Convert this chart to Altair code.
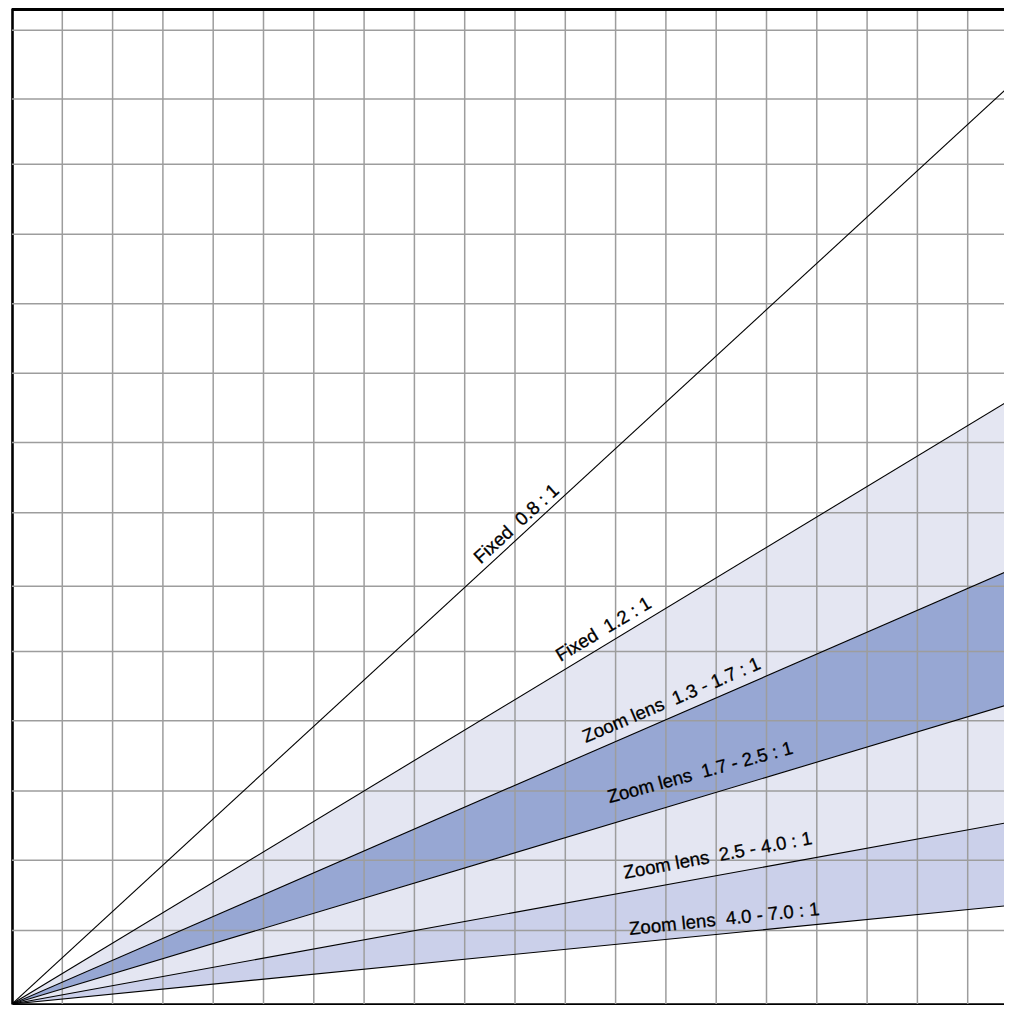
import altair as alt
import pandas as pd

# ---------------- data (grid units: x = throw distance, y = picture size) -------------
line_names = ["0.8", "1.2", "1.7", "2.5", "4.0", "7.0"]
line_end_y = [13.26, 8.72, 6.265, 4.33, 2.625, 1.424]   # height of each ratio line at x_end
x_end = 19.88

band_names = ["Zoom 1.3-1.7", "Zoom 1.7-2.5", "Zoom 2.5-4.0", "Zoom 4.0-7.0"]
band_upper = [8.72, 6.265, 4.33, 2.625]
band_lower = [6.265, 4.33, 2.625, 1.424]
band_colors = ["#E4E6F2", "#97A7D3", "#E4E6F2", "#CBD0EA"]

label_texts = [
    "Fixed \u00a00.8 : 1",
    "Fixed \u00a01.2 : 1",
    "Zoom lens \u00a01.3 - 1.7 : 1",
    "Zoom lens \u00a01.7 - 2.5 : 1",
    "Zoom lens \u00a02.5 - 4.0 : 1",
    "Zoom lens \u00a04.0 - 7.0 : 1",
]
label_x = [10.03, 11.76, 13.11, 13.68, 14.03, 14.16]
label_y = [6.92, 5.40, 4.38, 3.336, 2.14, 1.225]
label_angle = [317.6, 329.0, 337.0, 344.8, 349.5, 354.0]

x_grid = list(range(1, 20))
y_grid = [1.06, 2.07, 3.07, 4.08, 5.08, 6.02, 7.08, 8.09, 9.09, 10.09,
          11.09, 12.10, 13.04, 14.03]

# ---------------- layout ---------------------------------------------------------------
W, H = 992, 996
x_dom = [0, W / 50.3]
y_dom = [0, H / 69.4]

# ---------------- tables ---------------------------------------------------------------
band_rows = []
for n, hi, lo in zip(band_names, band_upper, band_lower):
    band_rows.append({"band": n, "x": 0.0, "hi": 0.0, "lo": 0.0})
    band_rows.append({"band": n, "x": x_end, "hi": hi, "lo": lo})
bands = pd.DataFrame(band_rows)

line_rows = []
for n, e in zip(line_names, line_end_y):
    line_rows.append({"line": n, "x": 0.0, "y": 0.0})
    line_rows.append({"line": n, "x": x_end, "y": e})
lines = pd.DataFrame(line_rows)

labels = pd.DataFrame({"text": label_texts, "x": label_x, "y": label_y,
                       "angle": label_angle})
vgrid = pd.DataFrame({"x": x_grid})
hgrid = pd.DataFrame({"y": y_grid})

xs = alt.Scale(domain=x_dom, nice=False, zero=False)
ys = alt.Scale(domain=y_dom, nice=False, zero=False)
x_axis = alt.Axis(labels=False, ticks=False, grid=False, title=None,
                  domainColor="#000000", domainWidth=2.6)
y_axis = alt.Axis(labels=False, ticks=False, grid=False, title=None,
                  domainColor="#000000", domainWidth=2.6)

X = lambda f: alt.X(f, scale=xs, axis=x_axis)
Y = lambda f, **k: alt.Y(f, scale=ys, axis=y_axis, **k)

area = alt.Chart(bands).mark_area(clip=True, opacity=1).encode(
    x=X("x:Q"),
    y=Y("hi:Q", stack=None),
    y2="lo:Q",
    color=alt.Color("band:N", scale=alt.Scale(domain=band_names, range=band_colors),
                    legend=None),
)

vg = alt.Chart(vgrid).mark_rule(color="#9d9d9d", strokeWidth=1.5).encode(x=X("x:Q"))
hg = alt.Chart(hgrid).mark_rule(color="#9d9d9d", strokeWidth=1.5).encode(y=Y("y:Q"))

ln = alt.Chart(lines).mark_line(color="#000000", strokeWidth=1.1, clip=True).encode(
    x=X("x:Q"),
    y=Y("y:Q"),
    detail="line:N",
)

txt = alt.Chart(labels).mark_text(
    font="Liberation Sans", fontSize=18.6, color="#000000",
    stroke="#000000", strokeWidth=0.3,
    align="center", baseline="middle",
).encode(
    x=X("x:Q"),
    y=Y("y:Q"),
    text="text:N",
    angle=alt.Angle("angle:Q", scale=None),
)

top_border = alt.Chart(vgrid).mark_rule(color="#000000", strokeWidth=2.6).encode(
    x=alt.value(0), x2=alt.value(W), y=alt.value(1.3)
)

chart = alt.layer(area, vg, hg, ln, txt, top_border).properties(
    width=W, height=H,
    autosize=alt.AutoSizeParams(type="none"),
    padding={"left": 4, "top": 0, "right": 0, "bottom": 1},
).configure_view(stroke=None).configure(background="#ffffff")

chart.save("out.html", embed_options={"renderer": "svg", "actions": False})
